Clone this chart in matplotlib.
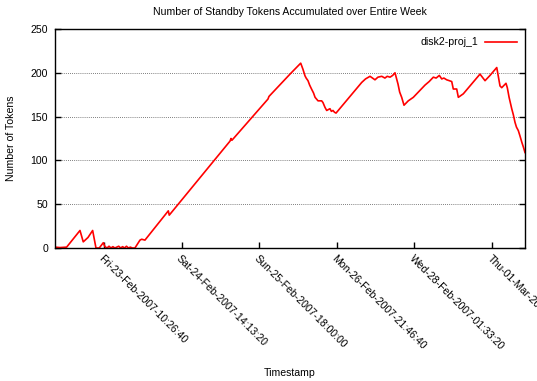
import datetime as dt
import matplotlib
matplotlib.use("Agg")
import matplotlib.pyplot as plt

plt.rcParams['font.family'] = ['Liberation Sans', 'DejaVu Sans']

# time in kiloseconds relative to the first tick, token count
t_ks = [-63.1, -56.7, -48.1, -30.9, -26.7, -20.6, -14.6, -10.3, -6.1, -0.9, 1.3,
        4.0, 6.5, 9.0, 11.5, 14.0, 16.5, 19.0, 21.5, 24.0, 26.5, 29.0, 31.5, 34.0,
        36.5, 39.9, 46.4, 48.6, 52.8, 82.9, 84.1, 162.4, 163.7, 164.9, 211.3, 212.6,
        239.7, 253.5, 256.4, 259.0, 260.5, 262.9, 265.0, 267.7, 270.0, 272.0, 275.8,
        280.5, 282.2, 284.8, 287.0, 289.0, 291.2, 293.0, 295.1, 297.0, 299.0,
        332.1, 337.0, 342.8, 346.0, 349.2, 353.0, 357.9, 362.0, 365.0, 368.6, 372.0,
        375.0, 378.9, 381.0, 383.6, 386.6, 392.1, 398.6, 413.7, 419.0, 424.4, 428.0,
        432.1, 435.2, 438.0, 441.6, 445.0, 448.1, 450.1, 454.5, 456.6, 463.0, 484.5,
        491.0, 497.4, 506.1, 510.3, 512.5, 518.0, 519.7, 522.0, 525.4, 527.5, 529.6,
        531.5, 533.9, 536.0, 538.3, 540.5, 542.5]
tokens = [1, 0.5, 1, 20, 7, 12, 20, 0, 0, 6, 1.5,
          0, 2, 0, 1.5, 0, 1, 2, 0, 1.5, 0, 2, 0, 1, 0, 0, 9, 10, 9, 42.4, 37.5,
          122, 125, 123, 170, 173,
          198.5, 211, 204, 196.6, 194, 191, 186, 181, 177, 172, 168,
          168, 166, 160.5, 157, 158, 159, 156, 157, 155, 154,
          189, 193, 196, 194, 192, 195, 196, 194, 196, 195, 197,
          200, 187, 178, 172, 163, 168, 172, 186, 190, 195, 194,
          197, 193, 194, 192, 191, 190, 181.5, 181.5, 172, 176, 198.5,
          191, 197, 206, 185, 183, 188, 183, 172, 159, 152, 143.5,
          138, 134, 128, 121, 115, 109]

# x tick labels every 100000 seconds from Fri-23-Feb-2007-10:26:40
t0 = dt.datetime(2007, 2, 23, 10, 26, 40)
tick_ks = [0, 100, 200, 300, 400, 500]
tick_labels = [(t0 + dt.timedelta(seconds=k * 1000)).strftime('%a-%d-%b-%Y-%H:%M:%S')
               for k in tick_ks]

fs = 7.6

fig = plt.figure(figsize=(5.37, 3.81), dpi=100)
ax = fig.add_axes([55 / 537, 133 / 381, 470 / 537, 219 / 381])

ax.plot(t_ks, tokens, color='#ff0000', lw=1.2, label='disk2-proj_1')

ax.set_xlim(t_ks[0], t_ks[-1])
ax.set_ylim(0, 250)
ax.set_yticks([0, 50, 100, 150, 200, 250])
ax.set_xticks(tick_ks)
ax.set_xticklabels(tick_labels, rotation=-45, ha='left', va='top',
                   rotation_mode='anchor')

for v in [50, 100, 150, 200]:
    ax.axhline(v, color='#555555', lw=0.6, ls=(0, (1, 1.5)), zorder=0)

ax.tick_params(axis='both', direction='in', length=4, width=1, labelsize=fs,
               colors='black')
ax.tick_params(axis='y', right=True, pad=5)
ax.tick_params(axis='x', pad=4)
for s in ax.spines.values():
    s.set_linewidth(1.0)

ax.set_title('Number of Standby Tokens Accumulated over Entire Week',
             fontsize=fs, pad=10)
ax.set_ylabel('Number of Tokens', fontsize=fs)
ax.yaxis.set_label_coords(-0.083, 0.5)
ax.set_xlabel('Timestamp', fontsize=fs)
ax.xaxis.set_label_coords(0.5, -0.548)

ax.legend(loc='upper right', frameon=False, fontsize=fs, markerfirst=False,
          handlelength=3.0, handletextpad=0.6, borderaxespad=0.4)

fig.savefig('out.png', dpi=100)
